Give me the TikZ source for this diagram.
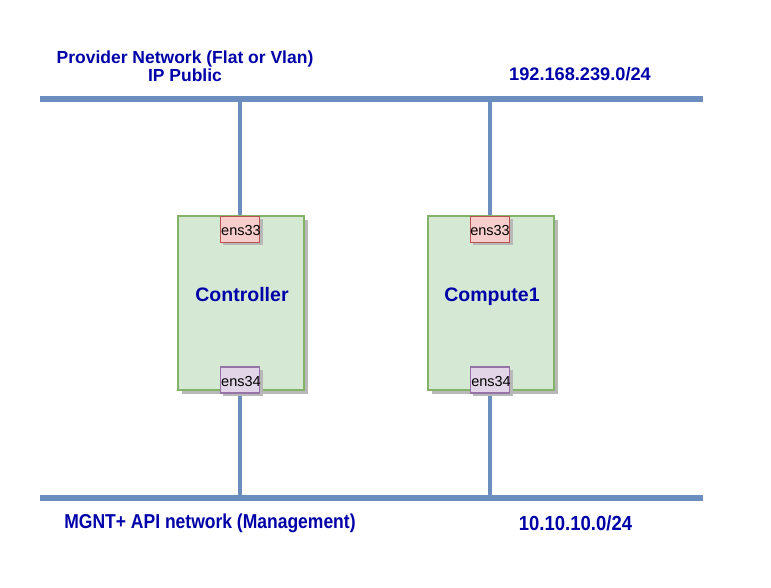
\documentclass[tikz,border=0pt]{standalone}
\usepackage{fontspec}
\setmainfont{Liberation Sans}
\usetikzlibrary{backgrounds}
\definecolor{netblue}{HTML}{6C8EBF}
\definecolor{txtblue}{HTML}{0000A8}
\definecolor{hostfill}{HTML}{D5E8D4}
\definecolor{hostdraw}{HTML}{82B366}
\definecolor{nicAfill}{HTML}{F8CECC}
\definecolor{nicAdraw}{HTML}{B85450}
\definecolor{nicBfill}{HTML}{E1D5E7}
\definecolor{nicBdraw}{HTML}{9673A6}
\definecolor{shadowc}{HTML}{B8B8B8}
\tikzset{
  bus/.style={draw=netblue, line width=6.5pt},
  link/.style={draw=netblue, line width=4pt},
  host/.style={draw=hostdraw, fill=hostfill, line width=1.6pt, minimum width=126pt, minimum height=174pt, inner sep=0pt},
  nicA/.style={draw=nicAdraw, fill=nicAfill, line width=1.6pt, minimum width=39pt, minimum height=26pt, inner sep=0pt},
  nicB/.style={draw=nicBdraw, fill=nicBfill, line width=1.6pt, minimum width=39pt, minimum height=26pt, inner sep=0pt},
  hostlabel/.style={font=\fontsize{19.5}{22}\selectfont\bfseries, text=txtblue, inner sep=0pt, anchor=base},
  niclabel/.style={font=\fontsize{14.5}{16}\selectfont, text=black, inner sep=0pt, anchor=base},
  netlabel/.style={font=\fontsize{17.5}{20}\selectfont\bfseries, text=txtblue, align=center, inner sep=0pt},
  shadowbox/.style={fill=shadowc},
}
\begin{document}
\begin{tikzpicture}[x=1pt,y=-1pt]
\useasboundingbox (0,0) rectangle (771,587);
\coordinate (tl) at (40,99); \coordinate (tr) at (703,99);
\coordinate (bl) at (40,498); \coordinate (br) at (703,498);
% buses
\draw[bus] (tl) -- (tr);
\draw[bus] (bl) -- (br);
% host shadows & hosts
\fill[shadowbox] (182,220) rectangle (308,394);
\fill[shadowbox] (432,220) rectangle (558,394);
\node[host] (ctrl) at (241,303) {};
\node[host] (comp) at (491,303) {};
% nic shadows & nics
\fill[shadowbox] (223,219) rectangle (263,245);
\fill[shadowbox] (223,370) rectangle (263,396);
\fill[shadowbox] (473,219) rectangle (513,245);
\fill[shadowbox] (473,370) rectangle (513,396);
\node[nicA] (c33) at (240,229.5) {};
\node[nicB] (c34) at (240,380) {};
\node[nicA] (p33) at (490,229.5) {};
\node[nicB] (p34) at (490,380) {};
% links
\begin{scope}[on background layer]
\draw[link] (c33.north |- tl) -- (c33.north);
\draw[link] (p33.north |- tl) -- (p33.north);
\draw[link] (c34.south) -- (c34.south |- bl);
\draw[link] (p34.south) -- (p34.south |- bl);
\end{scope}
% labels
\node[hostlabel] (ctrlL) at (242,301) {Controller};
\node[hostlabel] (compL) at (492,301) {Compute1};
\node[niclabel] (l1) at (241,235) {ens33};
\node[niclabel] (l2) at (241,386) {ens34};
\node[niclabel] (l3) at (490,235) {ens33};
\node[niclabel] (l4) at (491,386) {ens34};
% network labels
\node[netlabel] (prov) at (185,66) {Provider Network (Flat or Vlan)\\[-2pt]IP Public};
\node[netlabel, font=\fontsize{18.2}{20}\selectfont\bfseries] (pnet) at (580,74) {192.168.239.0/24};
\node[netlabel] (mgnt) at (210,523) {\scalebox{1}[1.15]{MGNT+ API network (Management)}};
\node[netlabel, font=\fontsize{18.5}{20}\selectfont\bfseries] (mnet) at (575.5,523) {\scalebox{1}[1.1]{10.10.10.0/24}};
\end{tikzpicture}
\end{document}
